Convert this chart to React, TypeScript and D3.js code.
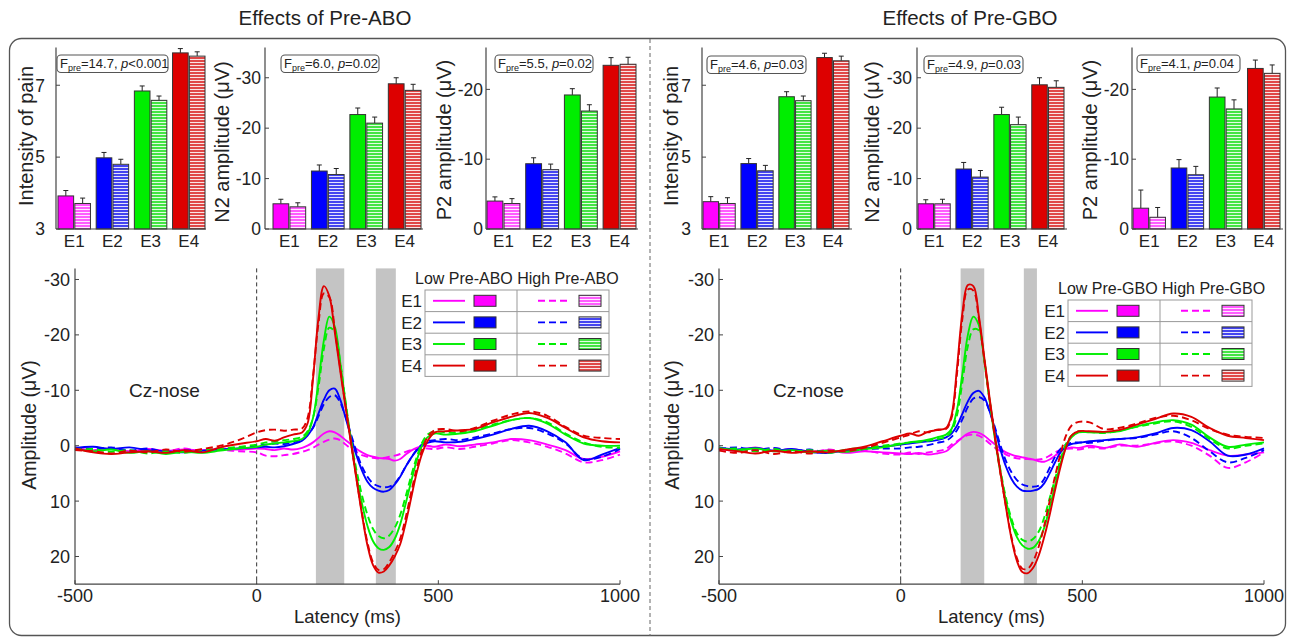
import React from 'react';
import * as d3 from 'd3';

const FONT = "'Liberation Sans', Arial, Helvetica, sans-serif";
const W = 1289;
const H = 638;

const CATEGORIES = ['E1', 'E2', 'E3', 'E4'];
const COLORS = ['#ff00ff', '#0000ff', '#00ee00', '#dd0000'];
const HATCH_BASE = ['#ff5cff', '#4444f0', '#44e444', '#e04848'];

// ---------- Bar data: Pre-ABO ----------
const ABO_PAIN_LOW = [3.92, 4.98, 6.84, 7.9];
const ABO_PAIN_LOW_ERR = [0.15, 0.15, 0.14, 0.12];
const ABO_PAIN_HIGH = [3.71, 4.8, 6.58, 7.81];
const ABO_PAIN_HIGH_ERR = [0.15, 0.14, 0.12, 0.12];
const ABO_N2_LOW = [-5.0, -11.5, -22.7, -28.8];
const ABO_N2_LOW_ERR = [0.9, 1.2, 1.3, 1.2];
const ABO_N2_HIGH = [-4.4, -10.8, -21.0, -27.5];
const ABO_N2_HIGH_ERR = [0.8, 1.2, 1.2, 1.2];
const ABO_P2_LOW = [-4.0, -9.35, -19.2, -23.45];
const ABO_P2_LOW_ERR = [0.6, 0.85, 0.9, 1.1];
const ABO_P2_HIGH = [-3.65, -8.5, -16.9, -23.6];
const ABO_P2_HIGH_ERR = [0.7, 0.8, 0.9, 1.0];

// ---------- Bar data: Pre-GBO ----------
const GBO_PAIN_LOW = [3.76, 4.82, 6.68, 7.77];
const GBO_PAIN_LOW_ERR = [0.14, 0.14, 0.14, 0.12];
const GBO_PAIN_HIGH = [3.71, 4.62, 6.57, 7.68];
const GBO_PAIN_HIGH_ERR = [0.16, 0.15, 0.13, 0.13];
const GBO_N2_LOW = [-5.0, -11.9, -22.7, -28.6];
const GBO_N2_LOW_ERR = [0.8, 1.3, 1.45, 1.4];
const GBO_N2_HIGH = [-5.0, -10.3, -20.7, -28.1];
const GBO_N2_HIGH_ERR = [0.9, 1.3, 1.5, 1.3];
const GBO_P2_LOW = [-2.98, -8.74, -18.9, -23.0];
const GBO_P2_LOW_ERR = [2.6, 1.2, 1.3, 1.2];
const GBO_P2_HIGH = [-1.68, -7.77, -17.2, -22.3];
const GBO_P2_HIGH_ERR = [1.4, 1.2, 1.3, 1.2];

const PAIN_TICKS = [3, 5, 7];
const N2_TICKS = [0, -10, -20, -30];
const P2_TICKS = [0, -10, -20];

// ---------- ERP data ----------
const LATENCY = [-500, -450, -400, -350, -300, -250, -200, -150, -100, -50, 0,
  25, 50, 75, 100, 125,
  140, 155, 170, 185, 200, 215, 230, 245, 260, 275, 290, 305, 320, 335, 350, 365, 380, 395, 410, 425, 440, 455, 470,
  490, 520, 560, 600, 650, 700, 750, 800, 850, 900, 950, 1000];
const LAT_TICKS = [-500, 0, 500, 1000];
const AMP_TICKS = [-30, -20, -10, 0, 10, 20];

const ABO_E1_LOW_ERP = [0.3, 0.8, 0.5, 1.0, 0.6, 0.9, 0.7, 0.8, 0.6, 0.7, 0.5, 0.6, 0.8, 0.5, 0.7, 0.4, 0.0, -0.6, -1.4, -2.2, -2.6, -2.4, -1.8, -1.0, -0.2, 0.6, 1.2, 1.7, 2.0, 2.2, 2.3, 2.4, 2.7, 2.4, 1.6, 0.9, 0.4, 0.1, 0.0, 0.2, -0.2, 0.1, -0.2, -0.6, -1.2, -1.0, -0.2, 0.8, 2.4, 2.0, 1.0];
const ABO_E1_HIGH_ERP = [0.6, 0.9, 0.4, 1.2, 0.7, 1.0, 0.5, 1.1, 0.8, 1.0, 1.2, 1.8, 1.9, 1.7, 1.5, 1.1, 0.8, 0.4, -0.2, -0.7, -1.1, -1.3, -1.0, -0.2, 0.6, 1.2, 1.7, 2.0, 2.2, 2.3, 2.2, 2.0, 1.8, 1.5, 1.1, 0.8, 0.6, 0.5, 0.5, 0.6, 0.3, 0.6, 0.2, -0.4, -1.0, -0.6, 0.2, 1.4, 3.0, 2.6, 1.6];
const ABO_E2_LOW_ERP = [0.4, 0.2, 0.6, 0.3, 0.8, 1.0, 1.2, 0.9, 0.7, 0.5, 0.3, 0.2, 0.3, 0.1, -0.3, -0.9, -1.8, -3.3, -5.8, -8.3, -10.0, -10.3, -8.3, -5.0, -1.5, 1.8, 4.5, 6.5, 7.6, 8.1, 8.3, 8.0, 7.0, 5.6, 3.8, 2.2, 0.9, 0.0, -0.5, -0.8, -0.6, -0.7, -1.2, -2.0, -3.0, -3.6, -2.6, -0.6, 2.6, 1.6, 0.4];
const ABO_E2_HIGH_ERP = [0.3, 0.6, 0.3, 0.9, 0.5, 1.1, 0.8, 1.0, 0.6, 0.4, 0.0, -0.2, -0.4, -0.3, -0.6, -1.2, -2.0, -3.2, -5.3, -7.5, -8.8, -9.1, -7.8, -5.2, -2.0, 1.2, 3.8, 5.6, 6.8, 7.3, 7.5, 7.4, 6.8, 5.5, 3.8, 2.2, 0.8, -0.2, -0.8, -1.0, -1.2, -1.0, -1.5, -2.2, -3.0, -3.2, -2.2, -0.4, 2.4, 2.0, 0.6];
const ABO_E3_LOW_ERP = [0.5, 1.0, 0.7, 1.3, 1.0, 1.5, 1.1, 1.3, 0.9, 0.5, 0.2, -0.2, -0.4, -0.6, -0.8, -1.2, -2.2, -5.0, -11.5, -19.0, -23.3, -21.5, -15.0, -7.5, -0.5, 5.5, 10.5, 14.5, 17.2, 18.5, 18.8, 18.3, 16.8, 14.2, 10.5, 6.5, 2.8, 0.0, -1.5, -2.2, -2.0, -2.2, -2.6, -3.6, -4.6, -5.0, -4.0, -2.0, -0.4, 0.0, 0.0];
const ABO_E3_HIGH_ERP = [0.8, 0.6, 1.1, 0.8, 1.4, 1.0, 1.3, 0.8, 0.6, 0.2, -0.2, -0.6, -0.8, -1.0, -1.2, -1.6, -2.6, -5.0, -10.5, -17.5, -21.3, -20.5, -15.0, -7.8, -1.0, 4.5, 9.0, 12.5, 15.0, 16.3, 16.7, 16.2, 14.8, 12.5, 9.2, 5.5, 2.2, -0.5, -2.0, -2.6, -2.4, -2.3, -2.8, -3.8, -4.6, -5.0, -4.2, -2.2, -0.6, 0.2, 0.4];
const ABO_E4_LOW_ERP = [0.5, 1.2, 1.5, 1.2, 1.0, 1.3, 0.8, 1.2, 0.3, -0.3, -0.8, -1.2, -0.9, -1.5, -2.0, -2.4, -4.0, -12.0, -23.0, -28.8, -27.0, -20.5, -13.5, -6.8, -0.3, 6.2, 12.5, 18.0, 21.5, 22.9, 22.7, 21.6, 20.0, 17.8, 14.0, 9.5, 5.0, 1.5, -0.8, -2.4, -2.6, -2.8, -3.0, -4.2, -5.2, -5.9, -5.0, -3.2, -1.5, -0.8, -0.6];
const ABO_E4_HIGH_ERP = [0.8, 1.0, 1.4, 0.9, 1.2, 0.7, 1.1, 0.6, 0.0, -1.0, -2.4, -2.8, -2.9, -2.7, -2.9, -3.1, -5.0, -12.5, -22.0, -27.5, -26.8, -21.0, -14.0, -7.0, -0.5, 6.0, 12.2, 17.5, 21.0, 22.4, 22.3, 21.0, 19.2, 16.8, 13.0, 8.5, 4.2, 0.8, -1.5, -2.8, -3.0, -2.6, -3.2, -4.5, -5.6, -6.2, -5.4, -3.4, -1.8, -1.4, -1.2];

const GBO_E1_LOW_ERP = [0.5, 0.9, 0.3, 1.0, 0.6, 1.1, 0.8, 1.3, 1.0, 1.2, 1.4, 1.5, 1.3, 1.6, 1.4, 1.0, 0.2, -0.6, -1.5, -2.2, -2.5, -2.3, -1.8, -1.0, -0.2, 0.6, 1.2, 1.6, 1.9, 2.1, 2.3, 2.5, 2.8, 2.9, 2.5, 1.8, 1.0, 0.5, 0.3, 0.4, 0.0, 0.4, -0.2, 0.2, -0.5, -1.0, -0.5, 0.8, 1.8, 1.6, 1.2];
const GBO_E1_HIGH_ERP = [0.8, 0.4, 1.0, 0.5, 0.9, 1.3, 0.7, 1.1, 0.9, 1.4, 1.6, 1.2, 1.5, 1.2, 1.0, 0.6, -0.2, -0.8, -1.4, -1.9, -2.0, -1.8, -1.2, -0.4, 0.4, 1.0, 1.6, 2.0, 2.3, 2.4, 2.4, 2.5, 2.5, 2.3, 1.8, 1.2, 0.8, 0.6, 0.5, 0.7, 0.3, 0.5, 0.0, 0.0, -0.4, -0.8, 0.0, 1.8, 4.0, 3.0, 1.2];
const GBO_E2_LOW_ERP = [0.3, 0.7, 0.4, 0.9, 0.6, 1.1, 1.3, 0.8, 0.5, 0.2, -0.2, -0.4, -0.6, -0.8, -1.0, -1.5, -2.2, -3.6, -5.8, -8.0, -9.5, -9.9, -8.8, -6.2, -2.8, 0.8, 3.8, 6.0, 7.4, 8.1, 8.2, 8.1, 7.8, 6.8, 5.0, 3.0, 1.2, 0.2, -0.3, -0.5, -0.8, -1.0, -1.2, -1.5, -2.2, -3.2, -2.8, -0.8, 1.8, 1.6, 0.5];
const GBO_E2_HIGH_ERP = [0.6, 0.3, 0.8, 0.4, 1.0, 0.7, 1.2, 0.9, 0.6, 0.5, 0.5, 0.3, 0.2, -0.1, -0.5, -0.9, -1.6, -2.8, -4.8, -7.0, -8.5, -8.8, -8.2, -6.2, -3.2, 0.0, 2.8, 4.8, 6.2, 7.0, 7.3, 7.4, 7.2, 6.0, 4.0, 2.0, 0.6, -0.2, -0.5, -0.6, -0.5, -0.9, -1.2, -1.4, -2.0, -2.6, -1.4, 1.0, 3.0, 2.2, 0.8];
const GBO_E3_LOW_ERP = [0.4, 0.8, 0.5, 1.0, 0.8, 1.2, 0.9, 1.1, 0.6, 0.3, -0.3, -0.6, -0.8, -1.1, -1.5, -2.0, -3.0, -6.5, -13.0, -20.0, -23.3, -21.8, -15.5, -8.0, -1.0, 5.0, 10.0, 13.8, 16.5, 18.0, 18.6, 18.4, 17.2, 14.8, 11.2, 7.2, 3.2, 0.2, -1.5, -2.4, -2.4, -2.4, -2.6, -3.5, -4.2, -4.6, -3.8, -1.5, 0.2, -0.2, -0.6];
const GBO_E3_HIGH_ERP = [0.7, 0.5, 1.0, 0.6, 1.1, 0.8, 1.3, 0.7, 0.4, 0.0, -0.4, -0.6, -0.7, -0.9, -1.2, -1.6, -2.6, -5.5, -11.5, -18.0, -21.0, -20.8, -15.5, -8.2, -1.5, 4.5, 9.5, 13.2, 15.8, 17.0, 17.3, 16.8, 15.5, 13.0, 9.5, 6.0, 2.5, -0.3, -1.8, -2.6, -2.5, -2.3, -2.7, -3.4, -4.0, -4.4, -3.4, -1.2, 0.5, 0.0, -0.4];
const GBO_E4_LOW_ERP = [0.6, 1.0, 1.4, 0.9, 1.3, 1.0, 1.2, 0.7, 0.2, -0.8, -1.8, -2.2, -1.8, -2.5, -2.8, -3.2, -5.5, -14.0, -24.0, -29.0, -28.8, -23.5, -16.0, -8.5, -1.5, 5.0, 11.2, 16.8, 20.8, 22.8, 23.0, 22.0, 19.8, 16.5, 12.5, 8.0, 3.8, 0.3, -1.8, -2.6, -2.6, -2.5, -2.8, -3.8, -4.8, -5.8, -5.2, -3.2, -1.8, -1.4, -1.0];
const GBO_E4_HIGH_ERP = [0.9, 1.3, 0.8, 1.5, 1.0, 1.4, 0.9, 1.0, 0.4, -0.5, -1.5, -2.0, -2.6, -2.4, -2.9, -3.0, -5.0, -13.0, -23.0, -28.2, -28.0, -23.0, -15.5, -8.0, -1.2, 5.2, 11.0, 16.5, 20.3, 22.2, 22.2, 20.8, 18.2, 14.5, 10.0, 5.5, 1.5, -1.8, -3.6, -4.3, -4.2, -3.0, -3.2, -4.0, -5.0, -5.4, -4.6, -3.0, -2.0, -1.6, -1.4];

const ABO_BANDS = [[163, 241], [328, 383]];
const GBO_BANDS = [[165, 230], [339, 375]];

// ---------- layout ----------
const BAR_BOTTOM = 229;
const BAR_TOP = 47.5;

type BarCfg = {
  axisX: number; axisEnd: number; band: [number, number];
  domain: [number, number]; ticks: number[];
  low: number[]; lowErr: number[]; high: number[]; highErr: number[];
  label: string; labelX: number; labelY: number; tickGap: number;
  fBox: [number, number, number]; fVal: string; pText: string;
};

function Hatches() {
  return (
    <defs>
      {COLORS.map((c, i) => (
        <pattern key={i} id={`hatch${i}`} patternUnits="userSpaceOnUse" width={8} height={3}>
          <rect width={8} height={3} fill={HATCH_BASE[i]} />
          <rect y={2} width={8} height={1} fill="#ffffff" opacity={0.85} />
        </pattern>
      ))}
    </defs>
  );
}

function BarChart({ c }: { c: BarCfg }) {
  const y = d3.scaleLinear().domain(c.domain).range([BAR_BOTTOM, BAR_TOP]);
  const xb = d3.scaleBand<string>().domain(CATEGORIES).range(c.band).paddingInner(0.15).paddingOuter(0);
  const bw = xb.bandwidth();
  const barW = bw / 2 - 0.6;
  const base = c.domain[0];
  return (
    <g fontFamily={FONT}>
      {CATEGORIES.map((cat, i) => {
        const bx = xb(cat) as number;
        const items = [
          { v: c.low[i], e: c.lowErr[i], x: bx, fill: COLORS[i] },
          { v: c.high[i], e: c.highErr[i], x: bx + bw / 2 + 0.6, fill: `url(#hatch${i})` },
        ];
        return (
          <g key={cat}>
            {items.map((it, j) => {
              const sign = it.v > base ? 1 : -1;
              const cx = it.x + barW / 2;
              const yTop = y(it.v);
              const yErr = y(it.v + sign * it.e);
              return (
                <g key={j}>
                  <line x1={cx} x2={cx} y1={yTop} y2={yErr} stroke="#222" strokeWidth={1} />
                  <line x1={cx - 2.5} x2={cx + 2.5} y1={yErr} y2={yErr} stroke="#222" strokeWidth={1} />
                  <rect x={it.x} y={yTop} width={barW} height={y(base) - yTop} fill={it.fill} stroke="#333" strokeWidth={1} />
                </g>
              );
            })}
            <text x={bx + bw / 2} y={247} textAnchor="middle" fontSize={17} fill="#222">{cat}</text>
          </g>
        );
      })}
      <line x1={c.axisX} x2={c.axisX} y1={BAR_BOTTOM} y2={BAR_TOP} stroke="#444" strokeWidth={1.2} />
      <line x1={c.axisX} x2={c.axisEnd} y1={BAR_BOTTOM} y2={BAR_BOTTOM} stroke="#444" strokeWidth={1.2} />
      {c.ticks.map((t) => (
        <g key={t}>
          <line x1={c.axisX} x2={c.axisX + 4} y1={y(t)} y2={y(t)} stroke="#444" />
          <text x={c.axisX - c.tickGap} y={y(t)} dy="0.36em" textAnchor="end" fontSize={17.5} fill="#222">{String(t)}</text>
        </g>
      ))}
      <text transform={`translate(${c.labelX},${c.labelY}) rotate(-90)`} textAnchor="middle" dy="0.35em" fontSize={20} fill="#222">{c.label}</text>
      <rect x={c.fBox[0]} y={c.fBox[1]} width={c.fBox[2]} height={17.5} rx={4} fill="#fff" stroke="#555" strokeWidth={1.1} />
      <text x={c.fBox[0] + 3} y={c.fBox[1] + 13} fontSize={13} fill="#222">
        F<tspan fontSize={9} dy={3}>pre</tspan><tspan dy={-3}>={c.fVal}, </tspan><tspan fontStyle="italic">p</tspan>{c.pText}
      </text>
    </g>
  );
}

type ErpSeries = { values: number[]; color: string; dashed: boolean };

function ErpPanel({ x0, x1, series, bands, title, legendX, legendY, labelX }: {
  x0: number; x1: number; series: ErpSeries[]; bands: number[][]; title: string;
  legendX: number; legendY: number; labelX: number;
}) {
  const x = d3.scaleLinear().domain([-500, 1000]).range([x0, x1]);
  const y = d3.scaleLinear().domain([-32, 25]).range([268.4, 584.2]);
  const line = d3.line<number>()
    .x((_, i) => x(LATENCY[i]))
    .y((d) => y(d))
    .curve(d3.curveCatmullRom.alpha(0.5));
  const yTop = y(-32), yBot = y(25);
  const rowH = 21.6, colW = 92;
  return (
    <g fontFamily={FONT}>
      {bands.map((b, i) => (
        <rect key={i} x={x(b[0])} y={yTop} width={x(b[1]) - x(b[0])} height={yBot - yTop} fill="#c4c4c4" />
      ))}
      <line x1={x(0)} x2={x(0)} y1={yTop} y2={yBot} stroke="#333" strokeWidth={1} strokeDasharray="4,3" />
      {series.map((s, i) => (
        <path key={i} d={line(s.values) as string} fill="none" stroke={s.color} strokeWidth={1.9}
          strokeDasharray={s.dashed ? '7,4' : undefined} />
      ))}
      <line x1={x0} x2={x0} y1={yTop} y2={yBot} stroke="#444" strokeWidth={1.2} />
      <line x1={x0} x2={x1} y1={yBot} y2={yBot} stroke="#444" strokeWidth={1.2} />
      {AMP_TICKS.map((t) => (
        <g key={t}>
          <line x1={x0} x2={x0 + 4} y1={y(t)} y2={y(t)} stroke="#444" />
          <text x={x0 - 5} y={y(t)} dy="0.36em" textAnchor="end" fontSize={18} fill="#222">{String(t)}</text>
        </g>
      ))}
      {LAT_TICKS.map((t) => (
        <g key={t}>
          <line x1={x(t)} x2={x(t)} y1={yBot} y2={yBot - 4} stroke="#444" />
          <text x={x(t)} y={602} textAnchor="middle" fontSize={18} fill="#222">{String(t)}</text>
        </g>
      ))}
      <text x={(x0 + x1) / 2} y={623} textAnchor="middle" fontSize={18.5} fill="#222">Latency (ms)</text>
      <text transform={`translate(${labelX},425) rotate(-90)`} textAnchor="middle" dy="0.35em" fontSize={19.5} fill="#222">Amplitude (μV)</text>
      <text x={x0 + 54} y={397} fontSize={19} fill="#222">Cz-nose</text>
      {/* legend */}
      <text x={legendX - 10} y={legendY - 6} fontSize={16} fill="#222">{title}</text>
      <rect x={legendX} y={legendY} width={colW * 2} height={rowH * 4} fill="#fff" stroke="#999" />
      {[1, 2, 3].map((r) => (
        <line key={r} x1={legendX} x2={legendX + colW * 2} y1={legendY + r * rowH} y2={legendY + r * rowH} stroke="#999" />
      ))}
      <line x1={legendX + colW} x2={legendX + colW} y1={legendY} y2={legendY + rowH * 4} stroke="#999" />
      {CATEGORIES.map((cat, i) => {
        const cy = legendY + rowH * (i + 0.5);
        return (
          <g key={cat}>
            <text x={legendX - 3} y={cy} dy="0.36em" textAnchor="end" fontSize={17} fill="#222">{cat}</text>
            <line x1={legendX + 8} x2={legendX + 40} y1={cy} y2={cy} stroke={COLORS[i]} strokeWidth={1.9} />
            <rect x={legendX + 49} y={cy - 5.5} width={22} height={11} fill={COLORS[i]} stroke="#333" />
            <line x1={legendX + 113} x2={legendX + 145} y1={cy} y2={cy} stroke={COLORS[i]} strokeWidth={1.9} strokeDasharray="7,4" />
            <rect x={legendX + 154} y={cy - 5.5} width={22} height={11} fill={`url(#hatch${i})`} stroke="#333" />
          </g>
        );
      })}
    </g>
  );
}

const ABO_ERP: ErpSeries[] = [
  { values: ABO_E1_LOW_ERP, color: COLORS[0], dashed: false },
  { values: ABO_E1_HIGH_ERP, color: COLORS[0], dashed: true },
  { values: ABO_E2_LOW_ERP, color: COLORS[1], dashed: false },
  { values: ABO_E2_HIGH_ERP, color: COLORS[1], dashed: true },
  { values: ABO_E3_LOW_ERP, color: COLORS[2], dashed: false },
  { values: ABO_E3_HIGH_ERP, color: COLORS[2], dashed: true },
  { values: ABO_E4_HIGH_ERP, color: COLORS[3], dashed: true },
  { values: ABO_E4_LOW_ERP, color: COLORS[3], dashed: false },
];
const GBO_ERP: ErpSeries[] = [
  { values: GBO_E1_LOW_ERP, color: COLORS[0], dashed: false },
  { values: GBO_E1_HIGH_ERP, color: COLORS[0], dashed: true },
  { values: GBO_E2_LOW_ERP, color: COLORS[1], dashed: false },
  { values: GBO_E2_HIGH_ERP, color: COLORS[1], dashed: true },
  { values: GBO_E3_LOW_ERP, color: COLORS[2], dashed: false },
  { values: GBO_E3_HIGH_ERP, color: COLORS[2], dashed: true },
  { values: GBO_E4_HIGH_ERP, color: COLORS[3], dashed: true },
  { values: GBO_E4_LOW_ERP, color: COLORS[3], dashed: false },
];

const BAR_CHARTS: BarCfg[] = [
  { axisX: 56, axisEnd: 206, band: [58, 205], domain: [3, 8.05], ticks: PAIN_TICKS,
    low: ABO_PAIN_LOW, lowErr: ABO_PAIN_LOW_ERR, high: ABO_PAIN_HIGH, highErr: ABO_PAIN_HIGH_ERR,
    label: 'Intensity of pain', labelX: 26, labelY: 136, tickGap: 11, fBox: [57, 55, 111], fVal: '14.7', pText: '<0.001' },
  { axisX: 265, axisEnd: 423, band: [273, 421], domain: [0, -36], ticks: N2_TICKS,
    low: ABO_N2_LOW, lowErr: ABO_N2_LOW_ERR, high: ABO_N2_HIGH, highErr: ABO_N2_HIGH_ERR,
    label: 'N2 amplitude (μV)', labelX: 222, labelY: 142, tickGap: 4, fBox: [281, 55, 98], fVal: '6.0', pText: '=0.02' },
  { axisX: 486, axisEnd: 638, band: [487, 636], domain: [0, -26], ticks: P2_TICKS,
    low: ABO_P2_LOW, lowErr: ABO_P2_LOW_ERR, high: ABO_P2_HIGH, highErr: ABO_P2_HIGH_ERR,
    label: 'P2 amplitude (μV)', labelX: 444, labelY: 140, tickGap: 3, fBox: [495, 55, 98], fVal: '5.5', pText: '=0.02' },
  { axisX: 702, axisEnd: 852, band: [703, 849], domain: [3, 8.05], ticks: PAIN_TICKS,
    low: GBO_PAIN_LOW, lowErr: GBO_PAIN_LOW_ERR, high: GBO_PAIN_HIGH, highErr: GBO_PAIN_HIGH_ERR,
    label: 'Intensity of pain', labelX: 671, labelY: 136, tickGap: 11, fBox: [707, 56, 99], fVal: '4.6', pText: '=0.03' },
  { axisX: 917, axisEnd: 1067, band: [918, 1064], domain: [0, -36], ticks: N2_TICKS,
    low: GBO_N2_LOW, lowErr: GBO_N2_LOW_ERR, high: GBO_N2_HIGH, highErr: GBO_N2_HIGH_ERR,
    label: 'N2 amplitude (μV)', labelX: 872, labelY: 142, tickGap: 5, fBox: [924, 56, 99], fVal: '4.9', pText: '=0.03' },
  { axisX: 1132, axisEnd: 1283, band: [1133, 1280], domain: [0, -26], ticks: P2_TICKS,
    low: GBO_P2_LOW, lowErr: GBO_P2_LOW_ERR, high: GBO_P2_HIGH, highErr: GBO_P2_HIGH_ERR,
    label: 'P2 amplitude (μV)', labelX: 1090, labelY: 140, tickGap: 3, fBox: [1137, 55, 103], fVal: '4.1', pText: '=0.04' },
];

export default function App() {
  return (
    <div style={{ position: 'absolute', left: 0, top: 0, width: W, height: H, background: '#fff' }}>
      <svg width={W} height={H} viewBox={`0 0 ${W} ${H}`} style={{ display: 'block' }}>
        <Hatches />
        <rect x={0} y={0} width={W} height={H} fill="#fff" />
        <text x={325} y={25} textAnchor="middle" fontFamily={FONT} fontSize={20.5} fill="#222">Effects of Pre-ABO</text>
        <text x={970} y={25} textAnchor="middle" fontFamily={FONT} fontSize={20.5} fill="#222">Effects of Pre-GBO</text>
        <rect x={9.5} y={38.5} width={1276} height={597} rx={12} fill="none" stroke="#555" strokeWidth={1.3} />
        <line x1={650} x2={650} y1={39} y2={636} stroke="#666" strokeWidth={1} strokeDasharray="4,3" />
        {BAR_CHARTS.map((c, i) => <BarChart key={i} c={c} />)}
        <ErpPanel x0={75} x1={620} series={ABO_ERP} bands={ABO_BANDS} title="Low Pre-ABO High Pre-ABO"
          legendX={425} legendY={290} labelX={29} />
        <ErpPanel x0={719} x1={1264} series={GBO_ERP} bands={GBO_BANDS} title="Low Pre-GBO High Pre-GBO"
          legendX={1068} legendY={300} labelX={672} />
      </svg>
    </div>
  );
}
